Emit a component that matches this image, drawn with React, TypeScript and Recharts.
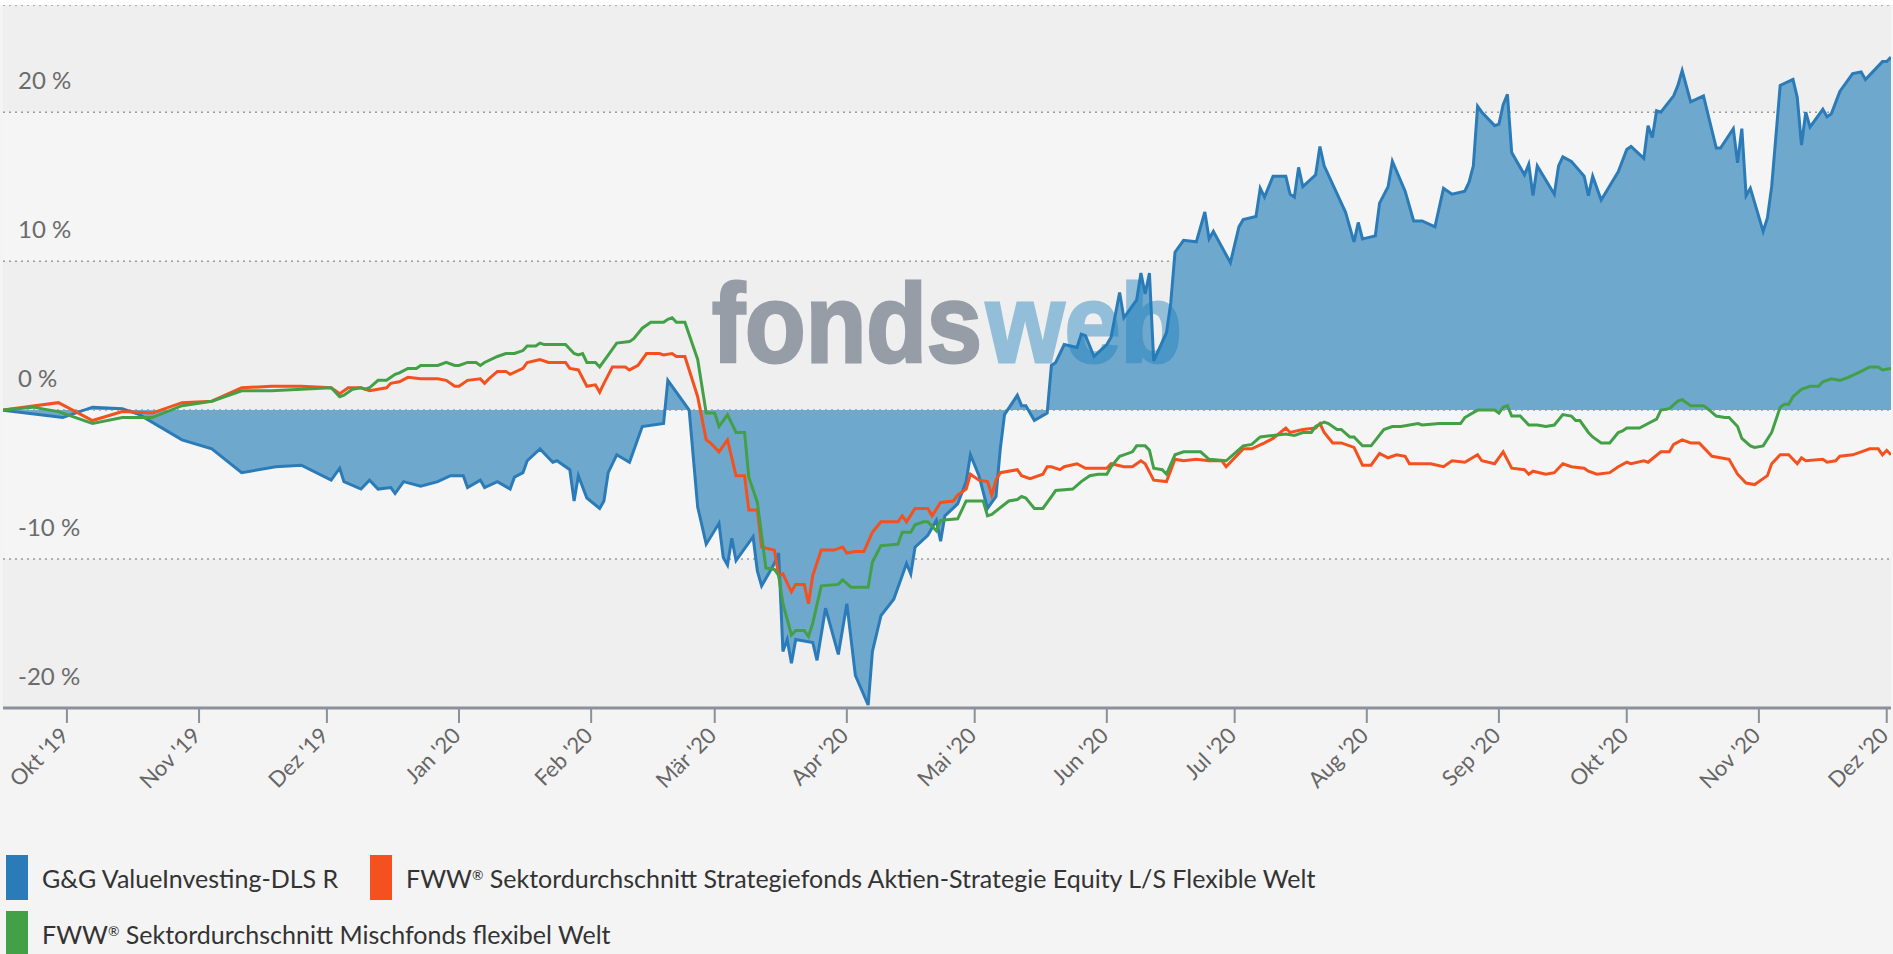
import React from 'react'
import {
  ComposedChart,
  Area,
  Line,
  XAxis,
  YAxis,
  CartesianGrid,
} from 'recharts'

// series names as shown in the legend
const fundName = 'G&G ValueInvesting-DLS R'
const equityName = 'FWW® Sektordurchschnitt Strategiefonds Aktien-Strategie Equity L/S Flexible Welt'
const mixedName = 'FWW® Sektordurchschnitt Mischfonds flexibel Welt'

// x axis: month starts and their labels
const monthTicks = [
  '2019-10-01', '2019-11-01', '2019-12-01', '2020-01-01', '2020-02-01',
  '2020-03-01', '2020-04-01', '2020-05-01', '2020-06-01', '2020-07-01',
  '2020-08-01', '2020-09-01', '2020-10-01', '2020-11-01', '2020-12-01',
]
const monthLabels = [
  "Okt '19", "Nov '19", "Dez '19", "Jan '20", "Feb '20", "Mär '20", "Apr '20",
  "Mai '20", "Jun '20", "Jul '20", "Aug '20", "Sep '20", "Okt '20", "Nov '20", "Dez '20",
]
const dateRange = ['2019-09-16', '2020-12-02']

// y axis
const yTicks = [-20, -10, 0, 10, 20]
const yMax = 27.2

// performance in %, [date, value]
const fundSeries: [string, number][] = [
  ['2019-09-16', 0], ['2019-09-30', -0.5], ['2019-10-07', 0.2], ['2019-10-14', 0.1],
  ['2019-10-18', -0.3], ['2019-10-28', -2.0], ['2019-11-04', -2.6], ['2019-11-11', -4.2],
  ['2019-11-19', -3.8], ['2019-11-25', -3.7], ['2019-12-02', -4.7], ['2019-12-04', -3.9],
  ['2019-12-05', -4.8], ['2019-12-09', -5.3], ['2019-12-11', -4.7], ['2019-12-13', -5.3],
  ['2019-12-16', -5.2], ['2019-12-17', -5.6], ['2019-12-19', -4.8], ['2019-12-23', -5.1],
  ['2019-12-27', -4.8], ['2019-12-30', -4.4], ['2020-01-02', -4.4], ['2020-01-03', -5.2],
  ['2020-01-06', -4.7], ['2020-01-07', -5.2], ['2020-01-10', -4.8], ['2020-01-13', -5.3],
  ['2020-01-14', -4.5], ['2020-01-16', -4.2], ['2020-01-17', -3.4], ['2020-01-20', -2.6],
  ['2020-01-23', -3.5], ['2020-01-24', -3.4], ['2020-01-27', -4.0], ['2020-01-28', -6.1],
  ['2020-01-29', -4.4], ['2020-01-31', -5.9], ['2020-02-03', -6.6], ['2020-02-04', -6.1],
  ['2020-02-05', -4.2], ['2020-02-07', -3.0], ['2020-02-10', -3.5], ['2020-02-13', -1.1],
  ['2020-02-18', -0.9], ['2020-02-19', 2.0], ['2020-02-24', 0], ['2020-02-26', -6.5],
  ['2020-02-28', -9.0], ['2020-03-02', -7.6], ['2020-03-03', -9.9], ['2020-03-04', -10.4],
  ['2020-03-05', -8.6], ['2020-03-06', -10.1], ['2020-03-10', -8.5], ['2020-03-11', -10.8],
  ['2020-03-12', -11.8], ['2020-03-15', -10.3], ['2020-03-16', -9.6], ['2020-03-17', -16.2],
  ['2020-03-18', -15.4], ['2020-03-19', -17.0], ['2020-03-20', -15.4], ['2020-03-24', -15.6],
  ['2020-03-25', -16.8], ['2020-03-27', -13.3], ['2020-03-30', -16.4], ['2020-04-01', -13.0],
  ['2020-04-03', -17.8], ['2020-04-06', -19.8], ['2020-04-07', -16.2], ['2020-04-09', -13.8],
  ['2020-04-12', -12.7], ['2020-04-14', -11.1], ['2020-04-15', -10.3], ['2020-04-16', -11.0],
  ['2020-04-17', -9.2], ['2020-04-20', -8.4], ['2020-04-22', -7.4], ['2020-04-23', -8.8],
  ['2020-04-24', -7.1], ['2020-04-27', -6.3], ['2020-04-29', -4.8], ['2020-04-30', -3.0],
  ['2020-05-02', -4.4], ['2020-05-04', -6.6], ['2020-05-06', -5.8], ['2020-05-07', -2.6],
  ['2020-05-08', -0.3], ['2020-05-11', 1.0], ['2020-05-12', 0.3], ['2020-05-13', 0.3],
  ['2020-05-15', -0.7], ['2020-05-18', -0.2], ['2020-05-19', 3.0], ['2020-05-20', 3.2],
  ['2020-05-22', 4.4], ['2020-05-25', 4.2], ['2020-05-26', 5.1], ['2020-05-27', 5.0],
  ['2020-05-29', 3.6], ['2020-06-01', 4.4], ['2020-06-02', 4.9], ['2020-06-04', 7.9],
  ['2020-06-05', 6.2], ['2020-06-08', 7.4], ['2020-06-09', 9.2], ['2020-06-10', 7.8],
  ['2020-06-11', 9.2], ['2020-06-12', 3.3], ['2020-06-15', 5.2], ['2020-06-16', 7.2],
  ['2020-06-17', 10.6], ['2020-06-19', 11.4], ['2020-06-22', 11.3], ['2020-06-24', 13.3],
  ['2020-06-25', 11.5], ['2020-06-26', 12.0], ['2020-06-30', 9.9], ['2020-07-02', 12.3],
  ['2020-07-03', 12.8], ['2020-07-06', 13.0], ['2020-07-07', 14.9], ['2020-07-08', 14.3],
  ['2020-07-10', 15.7], ['2020-07-13', 15.7], ['2020-07-14', 14.5], ['2020-07-15', 14.3],
  ['2020-07-16', 16.3], ['2020-07-17', 15.0], ['2020-07-20', 15.8], ['2020-07-21', 17.7],
  ['2020-07-22', 16.4], ['2020-07-27', 13.3], ['2020-07-29', 11.3], ['2020-07-30', 12.6],
  ['2020-07-31', 11.5], ['2020-08-03', 11.7], ['2020-08-04', 13.9], ['2020-08-06', 15.0],
  ['2020-08-07', 16.7], ['2020-08-10', 14.7], ['2020-08-12', 12.7], ['2020-08-14', 12.7],
  ['2020-08-17', 12.3], ['2020-08-19', 14.9], ['2020-08-21', 14.5], ['2020-08-24', 14.7],
  ['2020-08-25', 15.3], ['2020-08-26', 16.4], ['2020-08-27', 20.4], ['2020-08-28', 20.0],
  ['2020-08-31', 19.1], ['2020-09-01', 19.2], ['2020-09-02', 20.5], ['2020-09-03', 21.2],
  ['2020-09-04', 17.3], ['2020-09-07', 15.8], ['2020-09-08', 16.5], ['2020-09-09', 14.4],
  ['2020-09-10', 16.4], ['2020-09-14', 14.5], ['2020-09-15', 16.4], ['2020-09-16', 17.0],
  ['2020-09-18', 16.7], ['2020-09-21', 15.7], ['2020-09-22', 14.4], ['2020-09-23', 15.7],
  ['2020-09-25', 14.1], ['2020-09-29', 16.0], ['2020-10-01', 17.5], ['2020-10-02', 17.7],
  ['2020-10-05', 16.9], ['2020-10-06', 19.1], ['2020-10-07', 18.3], ['2020-10-08', 20.1],
  ['2020-10-09', 20.0], ['2020-10-12', 21.1], ['2020-10-13', 21.8], ['2020-10-14', 22.8],
  ['2020-10-16', 20.7], ['2020-10-19', 21.1], ['2020-10-22', 17.6], ['2020-10-23', 17.6],
  ['2020-10-26', 18.9], ['2020-10-27', 16.6], ['2020-10-28', 18.9], ['2020-10-29', 14.4],
  ['2020-10-30', 14.9], ['2020-11-02', 12.0], ['2020-11-03', 12.9], ['2020-11-04', 15.0],
  ['2020-11-06', 21.8], ['2020-11-09', 22.2], ['2020-11-10', 21.0], ['2020-11-11', 17.8],
  ['2020-11-12', 20.0], ['2020-11-13', 19.0], ['2020-11-16', 20.2], ['2020-11-17', 19.7],
  ['2020-11-18', 19.9], ['2020-11-20', 21.4], ['2020-11-23', 22.6], ['2020-11-25', 22.7],
  ['2020-11-26', 22.2], ['2020-11-30', 23.4], ['2020-12-01', 23.4], ['2020-12-02', 23.7],
]

const equitySeries: [string, number][] = [
  ['2019-09-16', 0], ['2019-09-29', 0.5], ['2019-10-07', -0.7], ['2019-10-14', -0.1],
  ['2019-10-21', -0.2], ['2019-10-28', 0.5], ['2019-11-04', 0.6], ['2019-11-11', 1.5],
  ['2019-11-18', 1.6], ['2019-11-25', 1.6], ['2019-12-02', 1.5], ['2019-12-04', 1.1],
  ['2019-12-06', 1.5], ['2019-12-09', 1.5], ['2019-12-11', 1.3], ['2019-12-15', 1.5],
  ['2019-12-16', 1.8], ['2019-12-18', 1.9], ['2019-12-20', 2.2], ['2019-12-23', 2.1],
  ['2019-12-27', 2.1], ['2019-12-29', 2.0], ['2019-12-31', 1.6], ['2020-01-01', 1.6],
  ['2020-01-03', 2.0], ['2020-01-06', 2.1], ['2020-01-07', 1.8], ['2020-01-08', 2.1],
  ['2020-01-10', 2.6], ['2020-01-12', 2.6], ['2020-01-13', 2.4], ['2020-01-16', 2.8],
  ['2020-01-17', 3.2], ['2020-01-20', 3.4], ['2020-01-22', 3.2], ['2020-01-26', 3.2],
  ['2020-01-27', 2.8], ['2020-01-29', 2.7], ['2020-01-31', 1.6], ['2020-02-02', 1.7],
  ['2020-02-03', 1.2], ['2020-02-04', 1.8], ['2020-02-06', 2.9], ['2020-02-09', 2.9],
  ['2020-02-10', 2.7], ['2020-02-12', 3.0], ['2020-02-14', 3.8], ['2020-02-17', 3.8],
  ['2020-02-18', 3.7], ['2020-02-20', 3.8], ['2020-02-21', 3.6], ['2020-02-23', 3.6],
  ['2020-02-26', 0.9], ['2020-02-28', -2.0], ['2020-02-29', -2.2], ['2020-03-02', -2.8],
  ['2020-03-04', -2.0], ['2020-03-06', -4.4], ['2020-03-08', -4.4], ['2020-03-09', -6.7],
  ['2020-03-11', -6.7], ['2020-03-12', -9.2], ['2020-03-15', -9.4], ['2020-03-16', -11.1],
  ['2020-03-17', -11.0], ['2020-03-19', -12.2], ['2020-03-20', -11.7], ['2020-03-22', -11.7],
  ['2020-03-23', -13.0], ['2020-03-24', -11.1], ['2020-03-26', -9.4], ['2020-03-29', -9.4],
  ['2020-03-31', -9.2], ['2020-04-01', -9.6], ['2020-04-03', -9.5], ['2020-04-05', -9.5],
  ['2020-04-07', -8.2], ['2020-04-09', -7.5], ['2020-04-13', -7.5], ['2020-04-14', -7.1],
  ['2020-04-15', -7.5], ['2020-04-17', -6.6], ['2020-04-20', -6.6], ['2020-04-21', -7.1],
  ['2020-04-23', -6.2], ['2020-04-26', -6.1], ['2020-04-27', -5.7], ['2020-04-29', -5.3],
  ['2020-04-30', -4.3], ['2020-05-02', -4.7], ['2020-05-04', -4.8], ['2020-05-05', -5.7],
  ['2020-05-06', -4.7], ['2020-05-07', -4.2], ['2020-05-11', -4.0], ['2020-05-12', -4.4],
  ['2020-05-14', -4.6], ['2020-05-17', -4.3], ['2020-05-18', -3.8], ['2020-05-19', -3.8],
  ['2020-05-21', -4.0], ['2020-05-22', -3.8], ['2020-05-25', -3.6], ['2020-05-27', -3.9],
  ['2020-06-01', -3.9], ['2020-06-02', -3.6], ['2020-06-05', -3.8], ['2020-06-07', -3.8],
  ['2020-06-09', -3.4], ['2020-06-10', -3.6], ['2020-06-12', -4.7], ['2020-06-15', -4.8],
  ['2020-06-17', -3.3], ['2020-06-19', -3.4], ['2020-06-22', -3.3], ['2020-06-25', -3.4],
  ['2020-06-28', -3.4], ['2020-06-29', -3.8], ['2020-07-03', -2.6], ['2020-07-05', -2.6],
  ['2020-07-08', -2.2], ['2020-07-10', -1.9], ['2020-07-13', -1.2], ['2020-07-14', -1.5],
  ['2020-07-17', -1.3], ['2020-07-20', -1.2], ['2020-07-21', -0.9], ['2020-07-22', -1.5],
  ['2020-07-24', -2.2], ['2020-07-26', -2.2], ['2020-07-29', -2.5], ['2020-07-31', -3.7],
  ['2020-08-02', -3.7], ['2020-08-04', -2.9], ['2020-08-06', -3.2], ['2020-08-08', -3.0],
  ['2020-08-10', -3.1], ['2020-08-11', -3.6], ['2020-08-13', -3.6], ['2020-08-16', -3.6],
  ['2020-08-19', -3.8], ['2020-08-21', -3.4], ['2020-08-24', -3.5], ['2020-08-27', -3.0],
  ['2020-08-28', -3.4], ['2020-08-31', -3.6], ['2020-09-02', -2.8], ['2020-09-04', -3.9],
  ['2020-09-07', -4.0], ['2020-09-08', -4.3], ['2020-09-09', -4.1], ['2020-09-12', -4.3],
  ['2020-09-14', -4.2], ['2020-09-16', -3.6], ['2020-09-18', -3.8], ['2020-09-21', -3.9],
  ['2020-09-22', -4.1], ['2020-09-24', -4.3], ['2020-09-27', -4.2], ['2020-09-29', -3.8],
  ['2020-10-01', -3.5], ['2020-10-02', -3.6], ['2020-10-05', -3.4], ['2020-10-06', -3.5],
  ['2020-10-09', -2.8], ['2020-10-11', -2.8], ['2020-10-12', -2.3], ['2020-10-14', -2.0],
  ['2020-10-16', -2.2], ['2020-10-18', -2.2], ['2020-10-21', -3.1], ['2020-10-25', -3.3],
  ['2020-10-27', -4.3], ['2020-10-29', -4.9], ['2020-10-31', -5.0], ['2020-11-02', -4.6],
  ['2020-11-03', -4.4], ['2020-11-04', -3.6], ['2020-11-06', -3.0], ['2020-11-08', -3.0],
  ['2020-11-10', -3.6], ['2020-11-11', -3.2], ['2020-11-12', -3.4], ['2020-11-16', -3.3],
  ['2020-11-17', -3.5], ['2020-11-19', -3.4], ['2020-11-20', -3.1], ['2020-11-23', -3.0],
  ['2020-11-25', -2.8], ['2020-11-27', -2.6], ['2020-11-29', -2.6], ['2020-11-30', -3.0],
  ['2020-12-01', -2.7], ['2020-12-02', -3.0],
]

const mixedSeries: [string, number][] = [
  ['2019-09-16', 0], ['2019-09-23', 0.2], ['2019-09-29', -0.1], ['2019-10-07', -0.9],
  ['2019-10-14', -0.5], ['2019-10-21', -0.5], ['2019-10-28', 0.3], ['2019-11-04', 0.6],
  ['2019-11-11', 1.3], ['2019-11-18', 1.3], ['2019-11-25', 1.4], ['2019-12-02', 1.5],
  ['2019-12-04', 0.9], ['2019-12-05', 1.0], ['2019-12-07', 1.4], ['2019-12-09', 1.5],
  ['2019-12-10', 1.4], ['2019-12-11', 1.5], ['2019-12-13', 2.0], ['2019-12-15', 2.0],
  ['2019-12-17', 2.4], ['2019-12-18', 2.5], ['2019-12-20', 2.8], ['2019-12-22', 2.8],
  ['2019-12-23', 3.0], ['2019-12-27', 3.0], ['2019-12-29', 3.2], ['2019-12-31', 3.0],
  ['2020-01-01', 3.0], ['2020-01-03', 3.2], ['2020-01-05', 3.2], ['2020-01-06', 3.0],
  ['2020-01-07', 3.2], ['2020-01-10', 3.6], ['2020-01-12', 3.8], ['2020-01-14', 3.8],
  ['2020-01-16', 4.0], ['2020-01-17', 4.3], ['2020-01-19', 4.3], ['2020-01-20', 4.5],
  ['2020-01-21', 4.4], ['2020-01-24', 4.4], ['2020-01-26', 4.4], ['2020-01-28', 3.8],
  ['2020-01-29', 3.7], ['2020-01-30', 3.8], ['2020-01-31', 3.2], ['2020-02-02', 3.2],
  ['2020-02-03', 2.9], ['2020-02-05', 3.7], ['2020-02-07', 4.5], ['2020-02-10', 4.6],
  ['2020-02-11', 4.8], ['2020-02-13', 5.5], ['2020-02-15', 5.9], ['2020-02-18', 5.9],
  ['2020-02-19', 6.1], ['2020-02-20', 6.2], ['2020-02-21', 5.9], ['2020-02-23', 5.9],
  ['2020-02-26', 3.4], ['2020-02-28', -0.2], ['2020-03-01', -0.2], ['2020-03-02', -1.1],
  ['2020-03-03', -0.7], ['2020-03-04', -0.3], ['2020-03-06', -1.5], ['2020-03-08', -1.5],
  ['2020-03-09', -4.5], ['2020-03-11', -6.2], ['2020-03-13', -10.6], ['2020-03-15', -10.7],
  ['2020-03-16', -11.1], ['2020-03-17', -13.0], ['2020-03-19', -15.1], ['2020-03-20', -14.8],
  ['2020-03-22', -14.8], ['2020-03-23', -15.2], ['2020-03-24', -14.3], ['2020-03-26', -11.8],
  ['2020-03-30', -11.7], ['2020-03-31', -11.4], ['2020-04-02', -11.9], ['2020-04-06', -11.9],
  ['2020-04-07', -10.2], ['2020-04-09', -9.1], ['2020-04-13', -9.0], ['2020-04-14', -8.2],
  ['2020-04-16', -8.2], ['2020-04-17', -7.7], ['2020-04-19', -7.5], ['2020-04-20', -7.5],
  ['2020-04-22', -8.1], ['2020-04-23', -7.4], ['2020-04-27', -7.3], ['2020-04-29', -6.1],
  ['2020-05-03', -6.1], ['2020-05-04', -7.1], ['2020-05-05', -7.0], ['2020-05-09', -6.1],
  ['2020-05-11', -6.0], ['2020-05-12', -5.8], ['2020-05-13', -5.9], ['2020-05-15', -6.6],
  ['2020-05-17', -6.6], ['2020-05-19', -5.8], ['2020-05-20', -5.4], ['2020-05-24', -5.3],
  ['2020-05-26', -4.8], ['2020-05-28', -4.4], ['2020-05-30', -4.3], ['2020-06-01', -4.3],
  ['2020-06-02', -3.8], ['2020-06-04', -3.1], ['2020-06-05', -3.0], ['2020-06-07', -2.8],
  ['2020-06-08', -2.4], ['2020-06-10', -2.4], ['2020-06-11', -2.7], ['2020-06-12', -3.9],
  ['2020-06-14', -4.0], ['2020-06-15', -4.3], ['2020-06-17', -3.0], ['2020-06-19', -2.8],
  ['2020-06-23', -2.8], ['2020-06-25', -3.3], ['2020-06-29', -3.4], ['2020-07-03', -2.4],
  ['2020-07-05', -2.3], ['2020-07-07', -1.8], ['2020-07-10', -1.7], ['2020-07-13', -1.6],
  ['2020-07-15', -1.7], ['2020-07-17', -1.5], ['2020-07-19', -1.5], ['2020-07-20', -1.1],
  ['2020-07-22', -0.8], ['2020-07-23', -0.9], ['2020-07-25', -1.3], ['2020-07-26', -1.3],
  ['2020-07-28', -1.8], ['2020-07-29', -1.8], ['2020-07-31', -2.4], ['2020-08-02', -2.4],
  ['2020-08-05', -1.3], ['2020-08-07', -1.1], ['2020-08-09', -1.1], ['2020-08-13', -0.9],
  ['2020-08-14', -1.0], ['2020-08-18', -0.9], ['2020-08-23', -0.9], ['2020-08-24', -0.5],
  ['2020-08-27', 0], ['2020-08-31', 0], ['2020-09-01', -0.2], ['2020-09-02', 0.2],
  ['2020-09-03', 0.3], ['2020-09-04', -0.4], ['2020-09-06', -0.4], ['2020-09-08', -1.0],
  ['2020-09-10', -1.0], ['2020-09-12', -1.1], ['2020-09-14', -1.0], ['2020-09-16', -0.3],
  ['2020-09-18', -0.4], ['2020-09-19', -0.7], ['2020-09-20', -0.7], ['2020-09-22', -1.5],
  ['2020-09-23', -1.8], ['2020-09-25', -2.2], ['2020-09-27', -2.2], ['2020-09-29', -1.5],
  ['2020-09-30', -1.4], ['2020-10-01', -1.2], ['2020-10-04', -1.2], ['2020-10-06', -0.9],
  ['2020-10-08', -0.6], ['2020-10-09', 0], ['2020-10-11', 0.1], ['2020-10-13', 0.6],
  ['2020-10-14', 0.7], ['2020-10-16', 0.3], ['2020-10-19', 0.3], ['2020-10-20', 0.1],
  ['2020-10-22', -0.4], ['2020-10-24', -0.5], ['2020-10-25', -0.5], ['2020-10-27', -1.1],
  ['2020-10-28', -1.9], ['2020-10-30', -2.4], ['2020-10-31', -2.5], ['2020-11-02', -2.4],
  ['2020-11-04', -1.5], ['2020-11-06', 0.2], ['2020-11-07', 0.4], ['2020-11-08', 0.4],
  ['2020-11-09', 0.9], ['2020-11-11', 1.4], ['2020-11-13', 1.6], ['2020-11-15', 1.6],
  ['2020-11-16', 1.9], ['2020-11-18', 2.1], ['2020-11-20', 2.0], ['2020-11-22', 2.2],
  ['2020-11-25', 2.6], ['2020-11-27', 2.9], ['2020-11-29', 2.9], ['2020-11-30', 2.7],
  ['2020-12-02', 2.8],
]

const BLUE = '#2b7bb8'
const BLUE_FILL = '#6fa8cd'
const ORANGE = '#f4511e'
const GREEN = '#43a047'
const FONT = 'Lato, "Noto Sans", sans-serif'

const toTime = (d: string) => {
  const [y, m, day] = d.split('-').map(Number)
  return Date.UTC(y, m - 1, day)
}
const toRows = (s: [string, number][]) => s.map(([d, v]) => ({ t: toTime(d), v }))

const fundRows = toRows(fundSeries)
const equityRows = toRows(equitySeries)
const mixedRows = toRows(mixedSeries)
const tickTimes = monthTicks.map(toTime)

// alternating stripes between the horizontal gridlines, top stripe darker
const stripeFill = yTicks.map((_, i) => (i % 2 === 0 ? '#efefef' : '#f5f5f5'))

function PercentTick({ y, payload }: any) {
  return (
    <text x={18} y={y - 23} fill="#6b6b6b" fontSize={24} fontFamily={FONT} textAnchor="start">
      {`${payload.value} %`}
    </text>
  )
}

function MonthTick({ x, y, payload }: any) {
  const i = tickTimes.indexOf(payload.value)
  const ax = x + 3
  const ay = y + 12
  return (
    <text
      x={ax}
      y={ay}
      transform={`rotate(-45, ${ax}, ${ay})`}
      textAnchor="end"
      fill="#666"
      fontSize={22}
      fontFamily={FONT}
    >
      {monthLabels[i]}
    </text>
  )
}

// small raised ® like the original legend
function LegendLabel({ text }: { text: string }) {
  const parts = text.split('®')
  return (
    <>
      {parts.map((p, i) => (
        <React.Fragment key={i}>
          {i > 0 && <span style={{ fontSize: '0.55em', verticalAlign: '0.6em' }}>®</span>}
          {p}
        </React.Fragment>
      ))}
    </>
  )
}

function LegendItem({ color, label, left, top }: { color: string; label: string; left: number; top: number }) {
  return (
    <div style={{ position: 'absolute', left, top, display: 'flex', alignItems: 'center' }}>
      <div style={{ width: 22, height: 45, background: color }} />
      <span style={{ marginLeft: 14, fontFamily: FONT, fontSize: 25, color: '#333', whiteSpace: 'nowrap' }}>
        <LegendLabel text={label} />
      </span>
    </div>
  )
}

export default function App() {
  return (
    <div
      style={{
        position: 'absolute',
        left: 0,
        top: 0,
        width: 1893,
        height: 954,
        background: '#f4f4f4',
        overflow: 'hidden',
      }}
    >
      <ComposedChart width={1893} height={954} margin={{ top: 5, right: 2, bottom: 194, left: 2 }}>
        <CartesianGrid
          vertical={false}
          stroke="#9a9a9a"
          strokeDasharray="2 4"
          strokeWidth={1.5}
          horizontalFill={stripeFill}
          fillOpacity={1}
        />
        <XAxis
          dataKey="t"
          type="number"
          domain={dateRange.map(toTime)}
          ticks={tickTimes}
          interval={0}
          allowDataOverflow
          height={52}
          tickSize={15}
          tick={<MonthTick />}
          axisLine={{ stroke: '#8a919b', strokeWidth: 3 }}
          tickLine={{ stroke: '#8a919b', strokeWidth: 2 }}
        />
        <YAxis
          type="number"
          domain={[-20, yMax]}
          ticks={yTicks}
          interval={0}
          allowDataOverflow
          width={1}
          axisLine={false}
          tickLine={false}
          tick={<PercentTick />}
        />
        <Area
          data={fundRows}
          dataKey="v"
          name={fundName}
          type="linear"
          baseValue={0}
          stroke={BLUE}
          strokeWidth={3}
          fill={BLUE_FILL}
          fillOpacity={1}
          dot={false}
          activeDot={false}
          isAnimationActive={false}
        />
        <Line
          data={equityRows}
          dataKey="v"
          name={equityName}
          type="linear"
          stroke={ORANGE}
          strokeWidth={3}
          dot={false}
          activeDot={false}
          isAnimationActive={false}
        />
        <Line
          data={mixedRows}
          dataKey="v"
          name={mixedName}
          type="linear"
          stroke={GREEN}
          strokeWidth={3}
          dot={false}
          activeDot={false}
          isAnimationActive={false}
        />
      </ComposedChart>
      {/* watermark drawn on top of the plot */}
      <svg
        width={1893}
        height={760}
        style={{ position: 'absolute', left: 0, top: 0, pointerEvents: 'none' }}
      >
        <text
          x={712}
          y={362}
          fontFamily='"Liberation Sans", Arial, sans-serif'
          fontWeight={700}
          fontSize={112}
          fill="#969da7"
          stroke="#969da7"
          strokeWidth={3}
          textLength={270}
          lengthAdjust="spacingAndGlyphs"
        >
          fonds
        </text>
        <g opacity={0.43}>
          <text
            x={986}
            y={362}
            fontFamily='"Liberation Sans", Arial, sans-serif'
            fontWeight={700}
            fontSize={112}
            fill="rgb(26,127,189)"
            stroke="rgb(26,127,189)"
            strokeWidth={3}
            textLength={196}
            lengthAdjust="spacingAndGlyphs"
          >
            web
          </text>
        </g>
      </svg>
      <div style={{ position: 'absolute', left: 0, top: 0, width: 1893, height: 5, background: '#fff' }} />
      <LegendItem color={BLUE} label={fundName} left={6} top={855} />
      <LegendItem color={ORANGE} label={equityName} left={370} top={855} />
      <LegendItem color={GREEN} label={mixedName} left={6} top={911} />
    </div>
  )
}
